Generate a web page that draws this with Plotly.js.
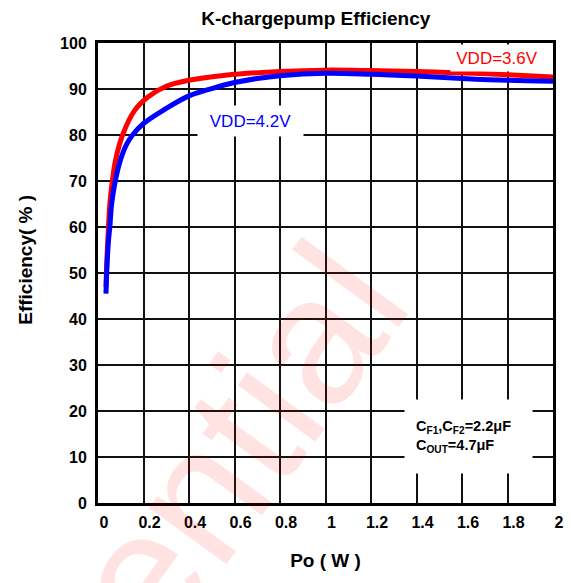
<!DOCTYPE html>
<html>
<head>
<meta charset="utf-8">
<script src="https://cdn.plot.ly/plotly-3.0.1.min.js"></script>
<style>html,body{margin:0;padding:0;background:#fff;}#chart{width:571px;height:583px;}</style>
</head>
<body>
<div id="chart"></div>
<script>
// VDD = 3.6V (red)
var x36 = [0.035, 0.04, 0.046, 0.052, 0.063, 0.077, 0.108, 0.162, 0.221, 0.3, 0.4, 0.56, 0.8, 1.0, 1.2, 1.4, 1.6, 1.8, 2.0];
var y36 = [47, 54, 60, 65, 70, 74.5, 80, 85.4, 88.3, 90.6, 91.9, 93.0, 93.8, 94.1, 94.0, 93.8, 93.5, 93.1, 92.6];
// VDD = 4.2V (blue)
var x42 = [0.035, 0.04, 0.046, 0.052, 0.06, 0.076, 0.097, 0.126, 0.152, 0.2, 0.294, 0.4, 0.5, 0.6, 0.7, 0.8, 1.0, 1.2, 1.4, 1.6, 1.8, 2.0];
var y42 = [45.5, 52, 57, 60, 65, 70, 74.3, 78, 80, 82.5, 85.6, 88.5, 90.1, 91.4, 92.3, 92.9, 93.4, 93.2, 92.8, 92.3, 91.9, 91.7];

var seriesNames = ["VDD=3.6V", "VDD=4.2V"];
var titleText = "K-chargepump Efficiency";
var xTitle = "Po ( W )";
var yTitle = "Efficiency( % )";
var capText = "C<sub>F1</sub>,C<sub>F2</sub>=2.2μF<br>C<sub>OUT</sub>=4.7μF";
var watermark = "ential";

var FONT = "Liberation Sans, Arial, sans-serif";

var traces = [
  {x: x36, y: y36, mode: "lines", name: seriesNames[0],
   line: {color: "#ff0000", width: 5, shape: "spline", smoothing: 1}},
  {x: x42, y: y42, mode: "lines", name: seriesNames[1],
   line: {color: "#0000ff", width: 5, shape: "spline", smoothing: 1}}
];

var layout = {
  width: 571, height: 583,
  margin: {l: 98, r: 18, t: 43, b: 80, pad: 0},
  paper_bgcolor: "#fff", plot_bgcolor: "#fff",
  showlegend: false,
  font: {family: FONT, color: "#000"},
  title: {text: titleText, font: {family: FONT, size: 19, weight: "bold", color: "#000"},
          x: 0.553, xref: "container", xanchor: "center", y: 0.969, yref: "container", yanchor: "middle"},
  xaxis: {range: [0, 2], dtick: 0.2, tick0: 0, showgrid: true, gridcolor: "#111", gridwidth: 2,
          zeroline: false, showline: true, linecolor: "#000", linewidth: 3, mirror: true,
          ticks: "", ticklabelstandoff: 3, ticklabelshift: 6, automargin: false,
          tickfont: {family: FONT, size: 16, weight: "bold", color: "#000"},
          title: {text: xTitle, standoff: 24, font: {family: FONT, size: 19, weight: "bold", color: "#000"}}},
  yaxis: {range: [0, 100], dtick: 10, tick0: 0, showgrid: true, gridcolor: "#111", gridwidth: 2,
          zeroline: false, showline: true, linecolor: "#000", linewidth: 3, mirror: true,
          ticks: "", ticklabelstandoff: 5, automargin: false,
          tickfont: {family: FONT, size: 16, weight: "bold", color: "#000"}},
  annotations: [
    {text: watermark, xref: "paper", yref: "paper", x: 0.305, y: 0.13, xanchor: "center", yanchor: "middle",
     showarrow: false, textangle: -54, font: {family: FONT, size: 182, color: "rgba(255,0,0,0.11)"}},
    {text: yTitle, xref: "paper", yref: "paper", x: -0.158, y: 0.529, xanchor: "center", yanchor: "middle",
     showarrow: false, textangle: -90, font: {family: FONT, size: 19, weight: "bold", color: "#000"}},
    {text: seriesNames[1], xref: "x", yref: "y", x: 0.669, y: 83.0, showarrow: false,
     bgcolor: "#fff", width: 95, height: 20, borderpad: 5,
     font: {family: FONT, size: 17, color: "#0000ff"}},
    {text: seriesNames[0], xref: "x", yref: "y", x: 1.753, y: 96.8, showarrow: false,
     bgcolor: "#fff", width: 82, height: 16, borderpad: 5,
     font: {family: FONT, size: 17, color: "#ff0000"}},
    {text: capText, xref: "x", yref: "y", x: 1.628, y: 14.4, showarrow: false,
     bgcolor: "#fff", width: 105, height: 51, borderpad: 11, align: "left",
     font: {family: FONT, size: 14.5, weight: "bold", color: "#000"}}
  ]
};

Plotly.newPlot("chart", traces, layout, {displayModeBar: false, staticPlot: true});
</script>
</body>
</html>
